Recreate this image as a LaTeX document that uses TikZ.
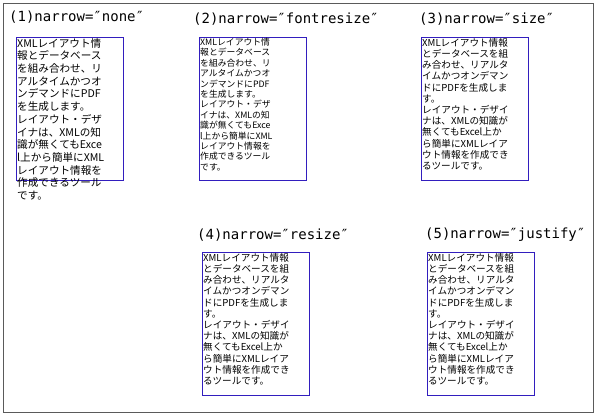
\documentclass[tikz,border=0pt]{standalone}
\usepackage{fontspec}
\setmainfont{Noto Sans CJK JP}
\newfontfamily\titlefont{DejaVu Sans Mono}
\usetikzlibrary{positioning}
\definecolor{boxblue}{RGB}{50,30,190}
\definecolor{framegray}{RGB}{90,90,90}
\tikzset{
	title/.style={anchor=west,inner sep=0pt,font=\titlefont\fontsize{14}{16}\selectfont},
	frame/.style={draw=boxblue,thick,anchor=north west,inner sep=0pt,minimum width=107pt,minimum height=143pt},
	body/.style={anchor=north west,inner sep=1pt,align=left}
}
\begin{document}
\begin{tikzpicture}[x=1pt,y=-1pt]
	\useasboundingbox (0,0) rectangle (600,419);
	\draw[framegray,thick] (3,3) rectangle (593,412);
	
	% titles
	\node[title] (h1) at (9,17) {(1)narrow=″none″};
	\node[title] (h2) at (193,19) {(2)narrow=″fontresize″};
	\node[title] (h3) at (419,19) {(3)narrow=″size″};
	\node[title] (h4) at (197,235) {(4)narrow=″resize″};
	\node[title] (h5) at (425,235) {(5)narrow=″justify″};
	
	% boxes
	\node[frame] (b1) at (16,37) {};
	\node[frame] (b2) at (199,37) {};
	\node[frame] (b3) at (421,37) {};
	\node[frame] (b4) at (202,252) {};
	\node[frame] (b5) at (427,252) {};
	
	% texts
	\node[body,font=\fontsize{10.6}{12.7}\selectfont] (t1) at (b1.north west) {XMLレイアウト情\\報とデータベース\\を組み合わせ、リ\\アルタイムかつオ\\ンデマンドにPDF\\を生成します。\\レイアウト・デザ\\イナは、XMLの知\\識が無くてもExce\\l上から簡単にXML\\レイアウト情報を\\作成できるツール\\です。};
	\node[body,font=\fontsize{8.8}{10.4}\selectfont] (t2) at (b2.north west) {XMLレイアウト情\\報とデータベース\\を組み合わせ、リ\\アルタイムかつオ\\ンデマンドにPDF\\を生成します。\\レイアウト・デザ\\イナは、XMLの知\\識が無くてもExce\\l上から簡単にXML\\レイアウト情報を\\作成できるツール\\です。};
	\foreach \n in {3,4,5}
	\node[body,font=\fontsize{9.6}{11.2}\selectfont] (t\n) at (b\n.north west) {XMLレイアウト情報\\とデータベースを組\\み合わせ、リアルタ\\イムかつオンデマン\\ドにPDFを生成しま\\す。\\レイアウト・デザイ\\ナは、XMLの知識が\\無くてもExcel上か\\ら簡単にXMLレイア\\ウト情報を作成でき\\るツールです。};
\end{tikzpicture}
\end{document}
